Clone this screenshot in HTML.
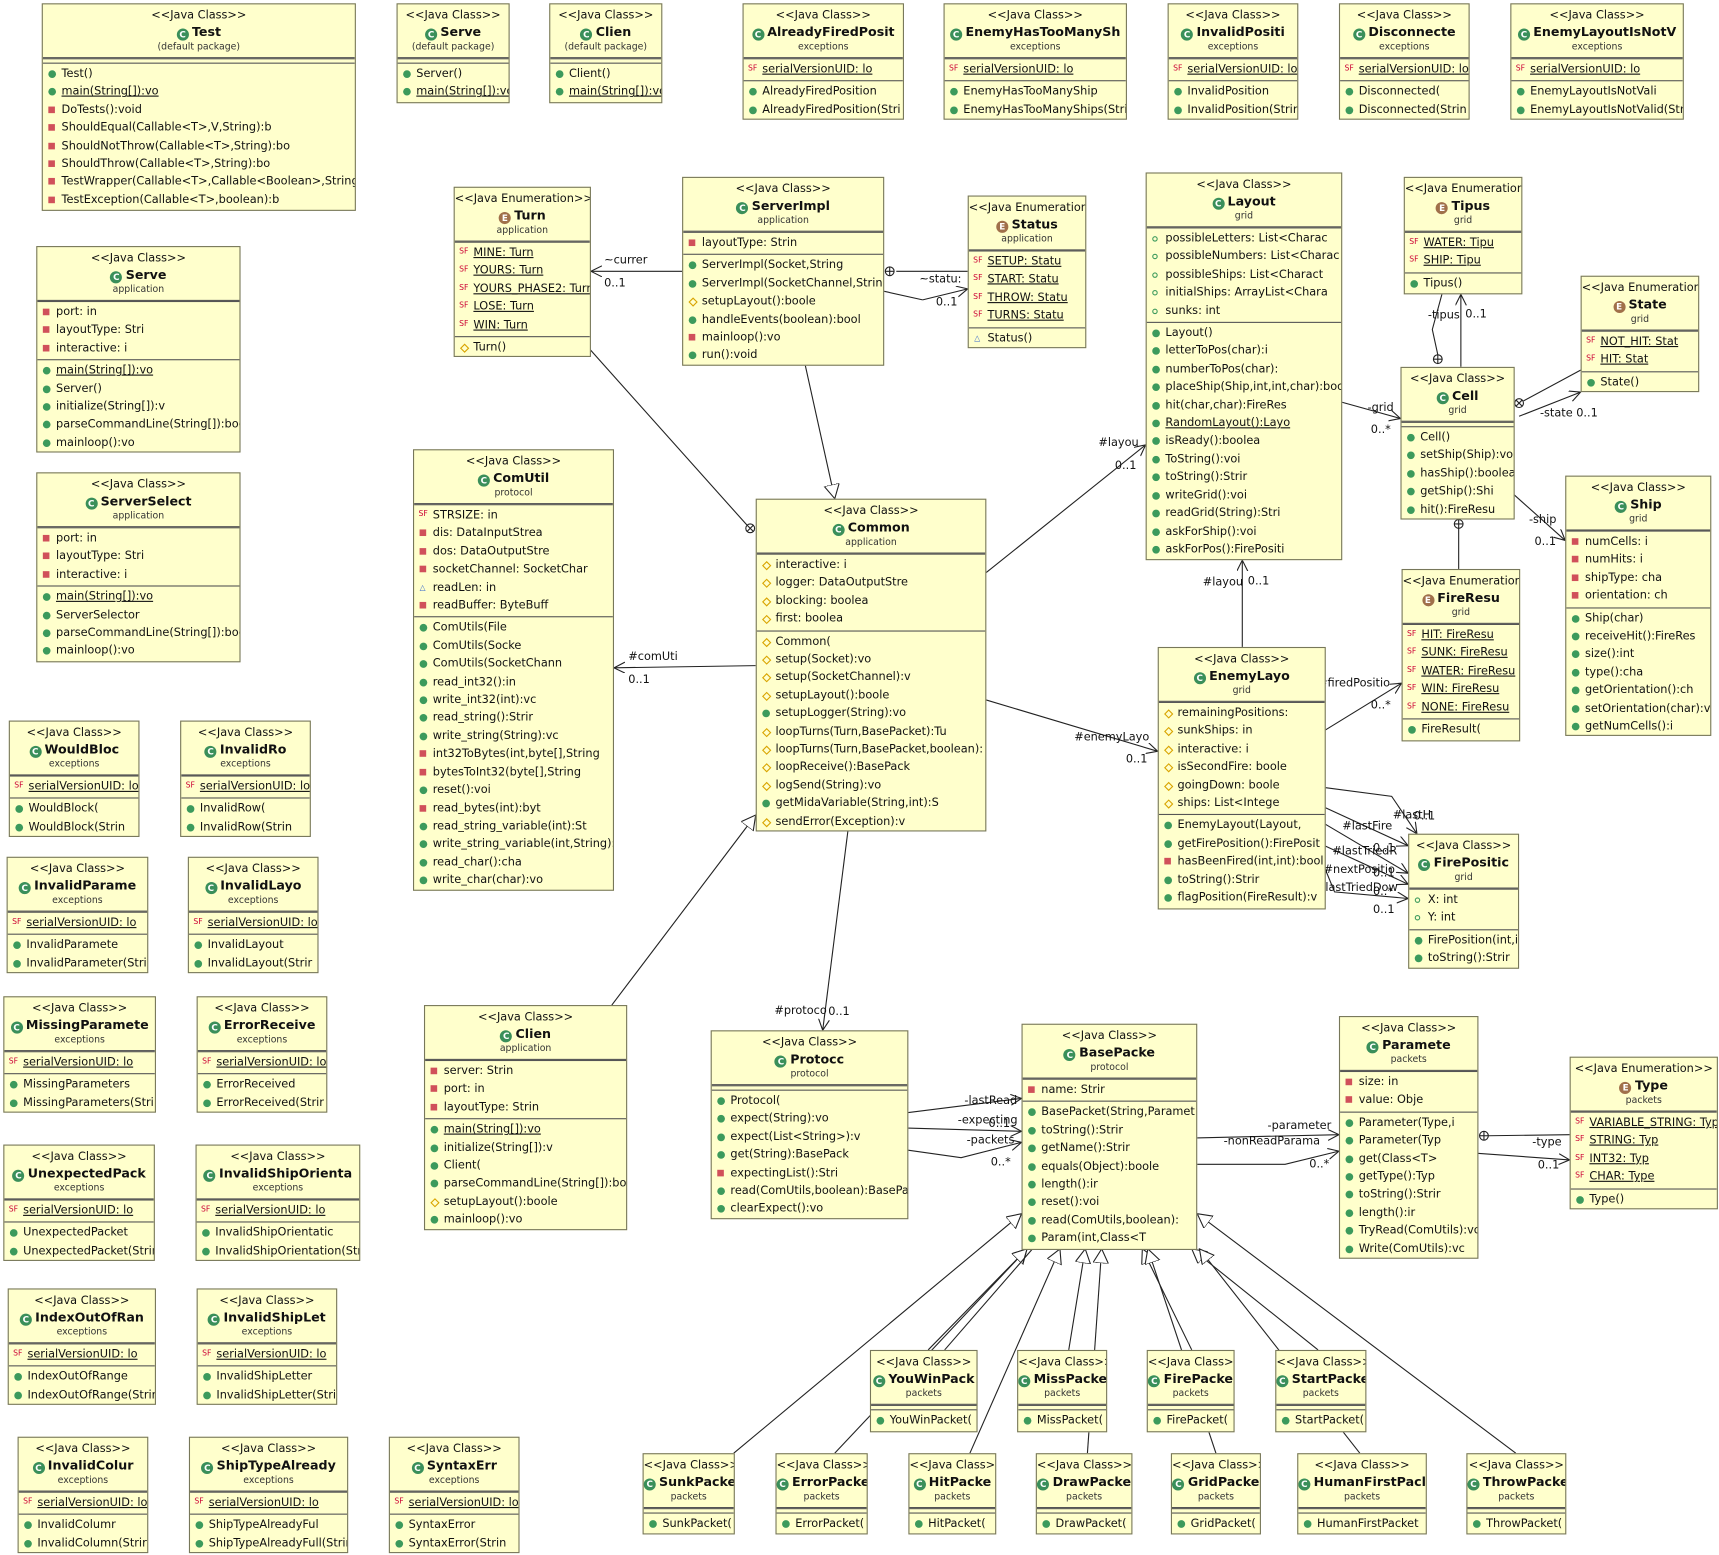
<!DOCTYPE html><html><head><meta charset="utf-8"><style>
html,body{margin:0;padding:0;background:#fff;width:1719px;height:1555px;overflow:hidden}
#c{position:absolute;left:0;top:0;width:1565px;height:1416px;transform:scale(1.0984);transform-origin:0 0}
.b{position:absolute;background:#ffffcc;border:1.5px solid #77775a;font:10.3px "DejaVu Sans",sans-serif;color:#111;overflow:hidden;white-space:nowrap;box-sizing:border-box}
.h{text-align:center;height:48px;border-bottom:1px solid #555}
.h i{display:block;font-style:normal;line-height:13px;padding-top:4px}
.h b{display:block;line-height:16px;font-size:11.5px}
.h s{display:block;text-decoration:none;font-size:8.5px;line-height:13px;color:#333}
.h em{display:inline-block;width:11px;height:11px;border-radius:50%;background:#3a8f5a;color:#fff;font-style:normal;font-size:8px;line-height:11px;margin-right:3px;vertical-align:-1px}
.h em.e{background:#a0704a}
.s{border-top:1px solid #555;padding:1px 0 2px 4px;min-height:2px}
.b p{margin:0;line-height:16.4px;padding-left:13px;position:relative}
.b p::before{content:"";position:absolute;left:1px;top:5px;width:7px;height:7px}
.g::before{background:#3c9a5c;border-radius:50%}
.r::before{background:#d0505a;width:6px!important;height:6px!important}
.y::before{border:1px solid #d9a400;transform:rotate(45deg);width:4px!important;height:4px!important;top:6px!important;left:2px!important}
.a::before{border:1.5px solid #3c9a5c;border-radius:50%;width:3px!important;height:3px!important;top:6px!important}
.t::before{content:"\25B3"!important;color:#36c;font-size:7px;top:0!important}
.sf::before{content:"SF"!important;color:#c03;font-size:7px;top:-1px!important;width:auto!important;height:auto!important;left:0!important}
.u{text-decoration:underline}
svg{position:absolute;left:0;top:0}
svg text{font:10.3px "DejaVu Sans",sans-serif;fill:#111}
</style></head><body><div id="c">
<svg width="1565" height="1416" viewBox="0 0 1565 1416">
<defs>
<marker id="ar" markerWidth="12" markerHeight="12" refX="10" refY="5" orient="auto" markerUnits="userSpaceOnUse"><path d="M0,0 L10,5 L0,10" fill="none" stroke="#222" stroke-width="1"/></marker>
<marker id="tr" markerWidth="16" markerHeight="16" refX="13" refY="7" orient="auto" markerUnits="userSpaceOnUse"><path d="M0,0 L13,7 L0,14 Z" fill="#fff" stroke="#222" stroke-width="1"/></marker>
</defs>
<g stroke="#222" stroke-width="1" fill="none">
<line x1="621" y1="247" x2="538" y2="247" marker-end="url(#ar)"/>
<line x1="816" y1="247" x2="881" y2="247"/><circle cx="810" cy="247" r="4"/><line x1="806" y1="247" x2="814" y2="247"/><line x1="810" y1="243" x2="810" y2="251"/>
<line x1="804" y1="265" x2="840" y2="273"/><line x1="840" y1="273" x2="881" y2="263" marker-end="url(#ar)"/>
<line x1="733" y1="332" x2="760" y2="454" marker-end="url(#tr)"/>
<line x1="537" y1="318" x2="680" y2="478"/><circle cx="683" cy="481" r="4"/><line x1="680" y1="478" x2="686" y2="484"/><line x1="686" y1="478" x2="680" y2="484"/>
<line x1="897" y1="522" x2="1043" y2="405" marker-end="url(#ar)"/>
<line x1="688" y1="606" x2="559" y2="608" marker-end="url(#ar)"/>
<line x1="897" y1="637" x2="1054" y2="684" marker-end="url(#ar)"/>
<line x1="772" y1="756" x2="749" y2="938" marker-end="url(#ar)"/>
<line x1="557" y1="915" x2="688" y2="742" marker-end="url(#tr)"/>
<line x1="1131" y1="589" x2="1131" y2="510" marker-end="url(#ar)"/>
<line x1="1206" y1="665" x2="1276" y2="622" marker-end="url(#ar)"/>
<polyline points="1206,717 1267,725 1290,759" marker-end="url(#ar)"/>
<line x1="1206" y1="735" x2="1282" y2="770" marker-end="url(#ar)"/>
<line x1="1206" y1="750" x2="1282" y2="795" marker-end="url(#ar)"/>
<line x1="1206" y1="770" x2="1282" y2="805" marker-end="url(#ar)"/>
<polyline points="1206,790 1215,812 1282,818" marker-end="url(#ar)"/>
<line x1="1221" y1="366" x2="1275" y2="381" marker-end="url(#ar)"/>
<polyline points="1309,323 1304,300 1313,267"/><circle cx="1309" cy="327" r="4"/><line x1="1305" y1="327" x2="1313" y2="327"/><line x1="1309" y1="323" x2="1309" y2="331"/>
<line x1="1330" y1="334" x2="1330" y2="268" marker-end="url(#ar)"/>
<line x1="1387" y1="365" x2="1439" y2="337"/><circle cx="1383" cy="367" r="4"/><line x1="1380" y1="364" x2="1386" y2="370"/><line x1="1386" y1="364" x2="1380" y2="370"/>
<line x1="1383" y1="379" x2="1439" y2="357" marker-end="url(#ar)"/>
<line x1="1378" y1="450" x2="1425" y2="492" marker-end="url(#ar)"/>
<line x1="1328" y1="481" x2="1328" y2="518"/><circle cx="1328" cy="477" r="4"/><line x1="1324" y1="477" x2="1332" y2="477"/><line x1="1328" y1="473" x2="1328" y2="481"/>
<line x1="826" y1="1013" x2="930" y2="1000" marker-end="url(#ar)"/>
<line x1="826" y1="1027" x2="930" y2="1030" marker-end="url(#ar)"/>
<polyline points="826,1047 875,1054 930,1040" marker-end="url(#ar)"/>
<line x1="1089" y1="1036" x2="1219" y2="1033" marker-end="url(#ar)"/>
<polyline points="1089,1060 1170,1060 1219,1048" marker-end="url(#ar)"/>
<line x1="1355" y1="1034" x2="1429" y2="1033"/><circle cx="1351" cy="1034" r="4"/><line x1="1347" y1="1034" x2="1355" y2="1034"/><line x1="1351" y1="1030" x2="1351" y2="1038"/>
<line x1="1345" y1="1050" x2="1429" y2="1056" marker-end="url(#ar)"/>
<line x1="668" y1="1323" x2="930" y2="1105" marker-end="url(#tr)"/>
<line x1="760" y1="1323" x2="935" y2="1137" marker-end="url(#tr)"/>
<line x1="845" y1="1229" x2="935" y2="1137" marker-end="url(#tr)"/>
<line x1="860" y1="1229" x2="940" y2="1137"/>
<line x1="883" y1="1323" x2="965" y2="1137" marker-end="url(#tr)"/>
<line x1="973" y1="1229" x2="988" y2="1137" marker-end="url(#tr)"/>
<line x1="990" y1="1323" x2="1003" y2="1137" marker-end="url(#tr)"/>
<line x1="1085" y1="1229" x2="1040" y2="1137" marker-end="url(#tr)"/>
<line x1="1107" y1="1323" x2="1045" y2="1137" marker-end="url(#tr)"/>
<line x1="1200" y1="1229" x2="1085" y2="1137" marker-end="url(#tr)"/>
<line x1="1238" y1="1323" x2="1092" y2="1137" marker-end="url(#tr)"/>
<line x1="1380" y1="1323" x2="1090" y2="1105" marker-end="url(#tr)"/>
</g>
<g>
<text x="550" y="240">~currer</text><text x="550" y="261">0..1</text>
<text x="837" y="257">~statu:</text><text x="852" y="278">0..1</text>
<text x="1000" y="406">#layou</text><text x="1015" y="427">0..1</text>
<text x="572" y="601">#comUti</text><text x="572" y="622">0..1</text>
<text x="978" y="674">#enemyLayo</text><text x="1025" y="694">0..1</text>
<text x="705" y="923">#protoco</text><text x="754" y="924">0..1</text>
<text x="1095" y="533">#layou</text><text x="1136" y="532">0..1</text>
<text x="1200" y="625">#firedPositio</text><text x="1248" y="645">0..*</text>
<text x="1268" y="745">#lastH</text><text x="1287" y="746">0..1</text>
<text x="1222" y="755">#lastFire</text><text x="1250" y="775">0..1</text>
<text x="1213" y="778">#lastTriedR</text><text x="1250" y="798">0..1</text>
<text x="1205" y="795">#nextPositio</text><text x="1250" y="815">0..*</text>
<text x="1198" y="811">#lastTriedDow</text><text x="1250" y="831">0..1</text>
<text x="1245" y="374">-grid</text><text x="1248" y="394">0..*</text>
<text x="1300" y="290">-tipus</text><text x="1334" y="289">0..1</text>
<text x="1402" y="379">-state</text><text x="1435" y="379">0..1</text>
<text x="1392" y="476">-ship</text><text x="1397" y="496">0..1</text>
<text x="878" y="1005">-lastRead</text>
<text x="872" y="1023">-expecting</text><text x="900" y="1026">0..1</text>
<text x="880" y="1041">-packets</text><text x="902" y="1061">0..*</text>
<text x="1154" y="1028">-parameter</text>
<text x="1114" y="1042">-nonReadParama</text><text x="1192" y="1063">0..*</text>
<text x="1395" y="1043">-type</text><text x="1400" y="1064">0..1</text>
</g>
</svg>

<div class="b" style="left:38px;top:3px;width:286px;height:189px"><div class="h"><i>&lt;&lt;Java Class&gt;&gt;</i><b><em>C</em>Test</b><s>(default package)</s></div><div class="s" style="padding:0;height:3px"></div><div class="s"><p class="g">Test()</p><p class="g u">main(String[]):vo</p><p class="r">DoTests():void</p><p class="r">ShouldEqual(Callable&lt;T&gt;,V,String):b</p><p class="r">ShouldNotThrow(Callable&lt;T&gt;,String):bo</p><p class="r">ShouldThrow(Callable&lt;T&gt;,String):bo</p><p class="r">TestWrapper(Callable&lt;T&gt;,Callable&lt;Boolean&gt;,String</p><p class="r">TestException(Callable&lt;T&gt;,boolean):b</p></div></div>

<div class="b" style="left:361px;top:3px;width:103px;height:91px"><div class="h"><i>&lt;&lt;Java Class&gt;&gt;</i><b><em>C</em>Serve</b><s>(default package)</s></div><div class="s" style="padding:0;height:3px"></div><div class="s"><p class="g">Server()</p><p class="g u">main(String[]):vo</p></div></div>
<div class="b" style="left:500px;top:3px;width:103px;height:91px"><div class="h"><i>&lt;&lt;Java Class&gt;&gt;</i><b><em>C</em>Clien</b><s>(default package)</s></div><div class="s" style="padding:0;height:3px"></div><div class="s"><p class="g">Client()</p><p class="g u">main(String[]):vo</p></div></div>

<div class="b" style="left:676px;top:3px;width:147px;height:106px"><div class="h"><i>&lt;&lt;Java Class&gt;&gt;</i><b><em>C</em>AlreadyFiredPosit</b><s>exceptions</s></div><div class="s"><p class="sf u">serialVersionUID: lo</p></div><div class="s"><p class="g">AlreadyFiredPosition</p><p class="g">AlreadyFiredPosition(Stri</p></div></div>
<div class="b" style="left:859px;top:3px;width:167px;height:106px"><div class="h"><i>&lt;&lt;Java Class&gt;&gt;</i><b><em>C</em>EnemyHasTooManySh</b><s>exceptions</s></div><div class="s"><p class="sf u">serialVersionUID: lo</p></div><div class="s"><p class="g">EnemyHasTooManyShip</p><p class="g">EnemyHasTooManyShips(Stri</p></div></div>
<div class="b" style="left:1063px;top:3px;width:119px;height:106px"><div class="h"><i>&lt;&lt;Java Class&gt;&gt;</i><b><em>C</em>InvalidPositi</b><s>exceptions</s></div><div class="s"><p class="sf u">serialVersionUID: lo</p></div><div class="s"><p class="g">InvalidPosition</p><p class="g">InvalidPosition(Strir</p></div></div>
<div class="b" style="left:1219px;top:3px;width:119px;height:106px"><div class="h"><i>&lt;&lt;Java Class&gt;&gt;</i><b><em>C</em>Disconnecte</b><s>exceptions</s></div><div class="s"><p class="sf u">serialVersionUID: lo</p></div><div class="s"><p class="g">Disconnected(</p><p class="g">Disconnected(Strin</p></div></div>
<div class="b" style="left:1375px;top:3px;width:158px;height:106px"><div class="h"><i>&lt;&lt;Java Class&gt;&gt;</i><b><em>C</em>EnemyLayoutIsNotV</b><s>exceptions</s></div><div class="s"><p class="sf u">serialVersionUID: lo</p></div><div class="s"><p class="g">EnemyLayoutIsNotVali</p><p class="g">EnemyLayoutIsNotValid(Str</p></div></div>

<div class="b" style="left:413px;top:170px;width:125px;height:155px"><div class="h"><i>&lt;&lt;Java Enumeration&gt;&gt;</i><b><em class="e">E</em>Turn</b><s>application</s></div><div class="s"><p class="sf u">MINE: Turn</p><p class="sf u">YOURS: Turn</p><p class="sf u">YOURS_PHASE2: Turn</p><p class="sf u">LOSE: Turn</p><p class="sf u">WIN: Turn</p></div><div class="s"><p class="y">Turn()</p></div></div>

<div class="b" style="left:621px;top:161px;width:184px;height:172px"><div class="h"><i>&lt;&lt;Java Class&gt;&gt;</i><b><em>C</em>ServerImpl</b><s>application</s></div><div class="s"><p class="r">layoutType: Strin</p></div><div class="s"><p class="g">ServerImpl(Socket,String</p><p class="g">ServerImpl(SocketChannel,Strin</p><p class="y">setupLayout():boole</p><p class="g">handleEvents(boolean):bool</p><p class="r">mainloop():vo</p><p class="g">run():void</p></div></div>

<div class="b" style="left:881px;top:178px;width:108px;height:139px"><div class="h"><i>&lt;&lt;Java Enumeration&gt;&gt;</i><b><em class="e">E</em>Status</b><s>application</s></div><div class="s"><p class="sf u">SETUP: Statu</p><p class="sf u">START: Statu</p><p class="sf u">THROW: Statu</p><p class="sf u">TURNS: Statu</p></div><div class="s"><p class="t">Status()</p></div></div>

<div class="b" style="left:1043px;top:157px;width:179px;height:353px"><div class="h"><i>&lt;&lt;Java Class&gt;&gt;</i><b><em>C</em>Layout</b><s>grid</s></div><div class="s"><p class="a">possibleLetters: List&lt;Charac</p><p class="a">possibleNumbers: List&lt;Charac</p><p class="a">possibleShips: List&lt;Charact</p><p class="a">initialShips: ArrayList&lt;Chara</p><p class="a">sunks: int</p></div><div class="s"><p class="g">Layout()</p><p class="g">letterToPos(char):i</p><p class="g">numberToPos(char):</p><p class="g">placeShip(Ship,int,int,char):boo</p><p class="g">hit(char,char):FireRes</p><p class="g u">RandomLayout():Layo</p><p class="g">isReady():boolea</p><p class="g">ToString():voi</p><p class="g">toString():Strir</p><p class="g">writeGrid():voi</p><p class="g">readGrid(String):Stri</p><p class="g">askForShip():voi</p><p class="g">askForPos():FirePositi</p></div></div>

<div class="b" style="left:1278px;top:161px;width:108px;height:107px"><div class="h"><i>&lt;&lt;Java Enumeration&gt;&gt;</i><b><em class="e">E</em>Tipus</b><s>grid</s></div><div class="s"><p class="sf u">WATER: Tipu</p><p class="sf u">SHIP: Tipu</p></div><div class="s"><p class="g">Tipus()</p></div></div>
<div class="b" style="left:1439px;top:251px;width:108px;height:106px"><div class="h"><i>&lt;&lt;Java Enumeration&gt;&gt;</i><b><em class="e">E</em>State</b><s>grid</s></div><div class="s"><p class="sf u">NOT_HIT: Stat</p><p class="sf u">HIT: Stat</p></div><div class="s"><p class="g">State()</p></div></div>

<div class="b" style="left:1275px;top:334px;width:104px;height:139px"><div class="h"><i>&lt;&lt;Java Class&gt;&gt;</i><b><em>C</em>Cell</b><s>grid</s></div><div class="s" style="padding:0;height:3px"></div><div class="s"><p class="g">Cell()</p><p class="g">setShip(Ship):vo</p><p class="g">hasShip():boolea</p><p class="g">getShip():Shi</p><p class="g">hit():FireResu</p></div></div>

<div class="b" style="left:1425px;top:433px;width:133px;height:237px"><div class="h"><i>&lt;&lt;Java Class&gt;&gt;</i><b><em>C</em>Ship</b><s>grid</s></div><div class="s"><p class="r">numCells: i</p><p class="r">numHits: i</p><p class="r">shipType: cha</p><p class="r">orientation: ch</p></div><div class="s"><p class="g">Ship(char)</p><p class="g">receiveHit():FireRes</p><p class="g">size():int</p><p class="g">type():cha</p><p class="g">getOrientation():ch</p><p class="g">setOrientation(char):v</p><p class="g">getNumCells():i</p></div></div>

<div class="b" style="left:1276px;top:518px;width:108px;height:157px"><div class="h"><i>&lt;&lt;Java Enumeration&gt;&gt;</i><b><em class="e">E</em>FireResu</b><s>grid</s></div><div class="s"><p class="sf u">HIT: FireResu</p><p class="sf u">SUNK: FireResu</p><p class="sf u">WATER: FireResu</p><p class="sf u">WIN: FireResu</p><p class="sf u">NONE: FireResu</p></div><div class="s"><p class="g">FireResult(</p></div></div>

<div class="b" style="left:1282px;top:759px;width:101px;height:123px"><div class="h"><i>&lt;&lt;Java Class&gt;&gt;</i><b><em>C</em>FirePositic</b><s>grid</s></div><div class="s"><p class="a">X: int</p><p class="a">Y: int</p></div><div class="s"><p class="g">FirePosition(int,in</p><p class="g">toString():Strir</p></div></div>

<div class="b" style="left:1054px;top:589px;width:153px;height:239px"><div class="h"><i>&lt;&lt;Java Class&gt;&gt;</i><b><em>C</em>EnemyLayo</b><s>grid</s></div><div class="s"><p class="y">remainingPositions:</p><p class="y">sunkShips: in</p><p class="y">interactive: i</p><p class="y">isSecondFire: boole</p><p class="y">goingDown: boole</p><p class="y">ships: List&lt;Intege</p></div><div class="s"><p class="g">EnemyLayout(Layout,</p><p class="g">getFirePosition():FirePosit</p><p class="r">hasBeenFired(int,int):bool</p><p class="g">toString():Strir</p><p class="g">flagPosition(FireResult):v</p></div></div>

<div class="b" style="left:688px;top:454px;width:210px;height:303px"><div class="h"><i>&lt;&lt;Java Class&gt;&gt;</i><b><em>C</em>Common</b><s>application</s></div><div class="s"><p class="y">interactive: i</p><p class="y">logger: DataOutputStre</p><p class="y">blocking: boolea</p><p class="y">first: boolea</p></div><div class="s"><p class="y">Common(</p><p class="y">setup(Socket):vo</p><p class="y">setup(SocketChannel):v</p><p class="y">setupLayout():boole</p><p class="g">setupLogger(String):vo</p><p class="y">loopTurns(Turn,BasePacket):Tu</p><p class="y">loopTurns(Turn,BasePacket,boolean):</p><p class="y">loopReceive():BasePack</p><p class="y">logSend(String):vo</p><p class="g">getMidaVariable(String,int):S</p><p class="y">sendError(Exception):v</p></div></div>

<div class="b" style="left:376px;top:409px;width:183px;height:402px"><div class="h"><i>&lt;&lt;Java Class&gt;&gt;</i><b><em>C</em>ComUtil</b><s>protocol</s></div><div class="s"><p class="sf">STRSIZE: in</p><p class="r">dis: DataInputStrea</p><p class="r">dos: DataOutputStre</p><p class="r">socketChannel: SocketChar</p><p class="t">readLen: in</p><p class="r">readBuffer: ByteBuff</p></div><div class="s"><p class="g">ComUtils(File</p><p class="g">ComUtils(Socke</p><p class="g">ComUtils(SocketChann</p><p class="g">read_int32():in</p><p class="g">write_int32(int):vc</p><p class="g">read_string():Strir</p><p class="g">write_string(String):vc</p><p class="r">int32ToBytes(int,byte[],String</p><p class="r">bytesToInt32(byte[],String</p><p class="g">reset():voi</p><p class="r">read_bytes(int):byt</p><p class="g">read_string_variable(int):St</p><p class="g">write_string_variable(int,String):</p><p class="g">read_char():cha</p><p class="g">write_char(char):vo</p></div></div>

<div class="b" style="left:33px;top:224px;width:186px;height:188px"><div class="h"><i>&lt;&lt;Java Class&gt;&gt;</i><b><em>C</em>Serve</b><s>application</s></div><div class="s"><p class="r">port: in</p><p class="r">layoutType: Stri</p><p class="r">interactive: i</p></div><div class="s"><p class="g u">main(String[]):vo</p><p class="g">Server()</p><p class="g">initialize(String[]):v</p><p class="g">parseCommandLine(String[]):boo</p><p class="g">mainloop():vo</p></div></div>
<div class="b" style="left:33px;top:430px;width:186px;height:173px"><div class="h"><i>&lt;&lt;Java Class&gt;&gt;</i><b><em>C</em>ServerSelect</b><s>application</s></div><div class="s"><p class="r">port: in</p><p class="r">layoutType: Stri</p><p class="r">interactive: i</p></div><div class="s"><p class="g u">main(String[]):vo</p><p class="g">ServerSelector</p><p class="g">parseCommandLine(String[]):boo</p><p class="g">mainloop():vo</p></div></div>

<div class="b" style="left:386px;top:915px;width:185px;height:205px"><div class="h"><i>&lt;&lt;Java Class&gt;&gt;</i><b><em>C</em>Clien</b><s>application</s></div><div class="s"><p class="r">server: Strin</p><p class="r">port: in</p><p class="r">layoutType: Strin</p></div><div class="s"><p class="g u">main(String[]):vo</p><p class="g">initialize(String[]):v</p><p class="g">Client(</p><p class="g">parseCommandLine(String[]):boo</p><p class="y">setupLayout():boole</p><p class="g">mainloop():vo</p></div></div>

<div class="b" style="left:647px;top:938px;width:180px;height:172px"><div class="h"><i>&lt;&lt;Java Class&gt;&gt;</i><b><em>C</em>Protocc</b><s>protocol</s></div><div class="s" style="padding:0;height:3px"></div><div class="s"><p class="g">Protocol(</p><p class="g">expect(String):vo</p><p class="g">expect(List&lt;String&gt;):v</p><p class="g">get(String):BasePack</p><p class="r">expectingList():Stri</p><p class="g">read(ComUtils,boolean):BasePa</p><p class="g">clearExpect():vo</p></div></div>

<div class="b" style="left:930px;top:932px;width:160px;height:206px"><div class="h"><i>&lt;&lt;Java Class&gt;&gt;</i><b><em>C</em>BasePacke</b><s>protocol</s></div><div class="s"><p class="r">name: Strir</p></div><div class="s"><p class="g">BasePacket(String,Paramet</p><p class="g">toString():Strir</p><p class="g">getName():Strir</p><p class="g">equals(Object):boole</p><p class="g">length():ir</p><p class="g">reset():voi</p><p class="g">read(ComUtils,boolean):</p><p class="g">Param(int,Class&lt;T</p></div></div>

<div class="b" style="left:1219px;top:925px;width:127px;height:221px"><div class="h"><i>&lt;&lt;Java Class&gt;&gt;</i><b><em>C</em>Paramete</b><s>packets</s></div><div class="s"><p class="r">size: in</p><p class="r">value: Obje</p></div><div class="s"><p class="g">Parameter(Type,i</p><p class="g">Parameter(Typ</p><p class="g">get(Class&lt;T&gt;</p><p class="g">getType():Typ</p><p class="g">toString():Strir</p><p class="g">length():ir</p><p class="g">TryRead(ComUtils):vc</p><p class="g">Write(ComUtils):vc</p></div></div>

<div class="b" style="left:1429px;top:962px;width:135px;height:139px"><div class="h"><i>&lt;&lt;Java Enumeration&gt;&gt;</i><b><em class="e">E</em>Type</b><s>packets</s></div><div class="s"><p class="sf u">VARIABLE_STRING: Typ</p><p class="sf u">STRING: Typ</p><p class="sf u">INT32: Typ</p><p class="sf u">CHAR: Type</p></div><div class="s"><p class="g">Type()</p></div></div>

<div class="b" style="left:8px;top:656px;width:119px;height:106px"><div class="h"><i>&lt;&lt;Java Class&gt;&gt;</i><b><em>C</em>WouldBloc</b><s>exceptions</s></div><div class="s"><p class="sf u">serialVersionUID: lo</p></div><div class="s"><p class="g">WouldBlock(</p><p class="g">WouldBlock(Strin</p></div></div>
<div class="b" style="left:164px;top:656px;width:119px;height:106px"><div class="h"><i>&lt;&lt;Java Class&gt;&gt;</i><b><em>C</em>InvalidRo</b><s>exceptions</s></div><div class="s"><p class="sf u">serialVersionUID: lo</p></div><div class="s"><p class="g">InvalidRow(</p><p class="g">InvalidRow(Strin</p></div></div>
<div class="b" style="left:6px;top:780px;width:129px;height:106px"><div class="h"><i>&lt;&lt;Java Class&gt;&gt;</i><b><em>C</em>InvalidParame</b><s>exceptions</s></div><div class="s"><p class="sf u">serialVersionUID: lo</p></div><div class="s"><p class="g">InvalidParamete</p><p class="g">InvalidParameter(Stri</p></div></div>
<div class="b" style="left:171px;top:780px;width:119px;height:106px"><div class="h"><i>&lt;&lt;Java Class&gt;&gt;</i><b><em>C</em>InvalidLayo</b><s>exceptions</s></div><div class="s"><p class="sf u">serialVersionUID: lo</p></div><div class="s"><p class="g">InvalidLayout</p><p class="g">InvalidLayout(Strir</p></div></div>
<div class="b" style="left:3px;top:907px;width:139px;height:106px"><div class="h"><i>&lt;&lt;Java Class&gt;&gt;</i><b><em>C</em>MissingParamete</b><s>exceptions</s></div><div class="s"><p class="sf u">serialVersionUID: lo</p></div><div class="s"><p class="g">MissingParameters</p><p class="g">MissingParameters(Stri</p></div></div>
<div class="b" style="left:179px;top:907px;width:119px;height:106px"><div class="h"><i>&lt;&lt;Java Class&gt;&gt;</i><b><em>C</em>ErrorReceive</b><s>exceptions</s></div><div class="s"><p class="sf u">serialVersionUID: lo</p></div><div class="s"><p class="g">ErrorReceived</p><p class="g">ErrorReceived(Strir</p></div></div>
<div class="b" style="left:3px;top:1042px;width:138px;height:106px"><div class="h"><i>&lt;&lt;Java Class&gt;&gt;</i><b><em>C</em>UnexpectedPack</b><s>exceptions</s></div><div class="s"><p class="sf u">serialVersionUID: lo</p></div><div class="s"><p class="g">UnexpectedPacket</p><p class="g">UnexpectedPacket(Strir</p></div></div>
<div class="b" style="left:178px;top:1042px;width:150px;height:106px"><div class="h"><i>&lt;&lt;Java Class&gt;&gt;</i><b><em>C</em>InvalidShipOrienta</b><s>exceptions</s></div><div class="s"><p class="sf u">serialVersionUID: lo</p></div><div class="s"><p class="g">InvalidShipOrientatic</p><p class="g">InvalidShipOrientation(Str</p></div></div>
<div class="b" style="left:7px;top:1173px;width:135px;height:106px"><div class="h"><i>&lt;&lt;Java Class&gt;&gt;</i><b><em>C</em>IndexOutOfRan</b><s>exceptions</s></div><div class="s"><p class="sf u">serialVersionUID: lo</p></div><div class="s"><p class="g">IndexOutOfRange</p><p class="g">IndexOutOfRange(Strir</p></div></div>
<div class="b" style="left:179px;top:1173px;width:128px;height:106px"><div class="h"><i>&lt;&lt;Java Class&gt;&gt;</i><b><em>C</em>InvalidShipLet</b><s>exceptions</s></div><div class="s"><p class="sf u">serialVersionUID: lo</p></div><div class="s"><p class="g">InvalidShipLetter</p><p class="g">InvalidShipLetter(Strir</p></div></div>
<div class="b" style="left:16px;top:1308px;width:119px;height:106px"><div class="h"><i>&lt;&lt;Java Class&gt;&gt;</i><b><em>C</em>InvalidColur</b><s>exceptions</s></div><div class="s"><p class="sf u">serialVersionUID: lo</p></div><div class="s"><p class="g">InvalidColumr</p><p class="g">InvalidColumn(Strir</p></div></div>
<div class="b" style="left:172px;top:1308px;width:145px;height:106px"><div class="h"><i>&lt;&lt;Java Class&gt;&gt;</i><b><em>C</em>ShipTypeAlready</b><s>exceptions</s></div><div class="s"><p class="sf u">serialVersionUID: lo</p></div><div class="s"><p class="g">ShipTypeAlreadyFul</p><p class="g">ShipTypeAlreadyFull(Strir</p></div></div>
<div class="b" style="left:354px;top:1308px;width:119px;height:106px"><div class="h"><i>&lt;&lt;Java Class&gt;&gt;</i><b><em>C</em>SyntaxErr</b><s>exceptions</s></div><div class="s"><p class="sf u">serialVersionUID: lo</p></div><div class="s"><p class="g">SyntaxError</p><p class="g">SyntaxError(Strin</p></div></div>

<div class="b" style="left:792px;top:1229px;width:98px;height:75px"><div class="h"><i>&lt;&lt;Java Class&gt;&gt;</i><b><em>C</em>YouWinPack</b><s>packets</s></div><div class="s" style="padding:0;height:3px"></div><div class="s"><p class="g">YouWinPacket(</p></div></div>
<div class="b" style="left:926px;top:1229px;width:82px;height:75px"><div class="h"><i>&lt;&lt;Java Class&gt;&gt;</i><b><em>C</em>MissPacke</b><s>packets</s></div><div class="s" style="padding:0;height:3px"></div><div class="s"><p class="g">MissPacket(</p></div></div>
<div class="b" style="left:1044px;top:1229px;width:80px;height:75px"><div class="h"><i>&lt;&lt;Java Class&gt;&gt;</i><b><em>C</em>FirePacke</b><s>packets</s></div><div class="s" style="padding:0;height:3px"></div><div class="s"><p class="g">FirePacket(</p></div></div>
<div class="b" style="left:1161px;top:1229px;width:83px;height:75px"><div class="h"><i>&lt;&lt;Java Class&gt;&gt;</i><b><em>C</em>StartPacke</b><s>packets</s></div><div class="s" style="padding:0;height:3px"></div><div class="s"><p class="g">StartPacket(</p></div></div>
<div class="b" style="left:585px;top:1323px;width:84px;height:74px"><div class="h"><i>&lt;&lt;Java Class&gt;&gt;</i><b><em>C</em>SunkPacke</b><s>packets</s></div><div class="s" style="padding:0;height:3px"></div><div class="s"><p class="g">SunkPacket(</p></div></div>
<div class="b" style="left:706px;top:1323px;width:84px;height:74px"><div class="h"><i>&lt;&lt;Java Class&gt;&gt;</i><b><em>C</em>ErrorPacke</b><s>packets</s></div><div class="s" style="padding:0;height:3px"></div><div class="s"><p class="g">ErrorPacket(</p></div></div>
<div class="b" style="left:827px;top:1323px;width:80px;height:74px"><div class="h"><i>&lt;&lt;Java Class&gt;&gt;</i><b><em>C</em>HitPacke</b><s>packets</s></div><div class="s" style="padding:0;height:3px"></div><div class="s"><p class="g">HitPacket(</p></div></div>
<div class="b" style="left:943px;top:1323px;width:88px;height:74px"><div class="h"><i>&lt;&lt;Java Class&gt;&gt;</i><b><em>C</em>DrawPacke</b><s>packets</s></div><div class="s" style="padding:0;height:3px"></div><div class="s"><p class="g">DrawPacket(</p></div></div>
<div class="b" style="left:1066px;top:1323px;width:82px;height:74px"><div class="h"><i>&lt;&lt;Java Class&gt;&gt;</i><b><em>C</em>GridPacke</b><s>packets</s></div><div class="s" style="padding:0;height:3px"></div><div class="s"><p class="g">GridPacket(</p></div></div>
<div class="b" style="left:1181px;top:1323px;width:118px;height:74px"><div class="h"><i>&lt;&lt;Java Class&gt;&gt;</i><b><em>C</em>HumanFirstPacl</b><s>packets</s></div><div class="s" style="padding:0;height:3px"></div><div class="s"><p class="g">HumanFirstPacket</p></div></div>
<div class="b" style="left:1335px;top:1323px;width:91px;height:74px"><div class="h"><i>&lt;&lt;Java Class&gt;&gt;</i><b><em>C</em>ThrowPacke</b><s>packets</s></div><div class="s" style="padding:0;height:3px"></div><div class="s"><p class="g">ThrowPacket(</p></div></div>
</div></body></html>
